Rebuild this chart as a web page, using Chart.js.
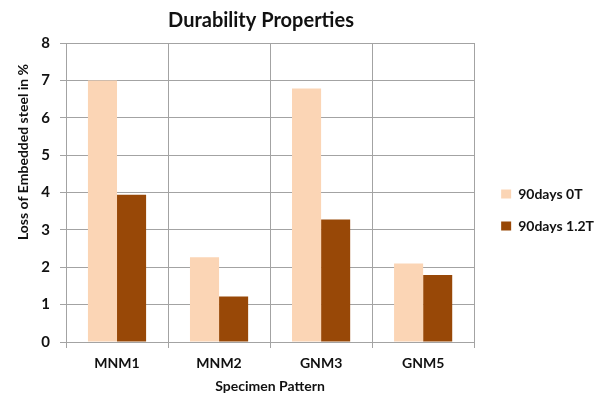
<!DOCTYPE html>
<html>
<head>
<meta charset="utf-8">
<script src="https://cdn.jsdelivr.net/npm/chart.js@4/dist/chart.umd.min.js"></script>
<style>
  html, body { margin: 0; padding: 0; background: #fff; }
  #wrap { width: 611px; height: 401px; }
</style>
</head>
<body>
<div id="wrap"><canvas id="c" width="611" height="401"></canvas></div>
<script>
// Specimen categories and measured steel loss (%) after 90 days
const specimens = ['MNM1', 'MNM2', 'GNM3', 'GNM5'];
const loss0T = [7.0, 2.27, 6.78, 2.1];
const loss12T = [3.94, 1.22, 3.28, 1.79];
const seriesNames = ['90days 0T', '90days 1.2T'];
const yTicks = [0, 1, 2, 3, 4, 5, 6, 7, 8];
const chartTitle = 'Durability Properties';
const yCaption = 'Loss of Embedded steel in %';
const xCaption = 'Specimen Pattern';

const FONT = 'Lato, "Open Sans", sans-serif';
const GRID = '#a3a3a3';
const INK = '#111111';

// Chart heading, rotated y-axis caption and legend placement
const extras = {
  id: 'extras',
  afterLayout(chart) {
    const lg = chart.legend;
    if (lg) {
      const dx = 9, dy = -12;
      lg.left += dx; lg.right += dx; lg.top += dy; lg.bottom += dy;
    }
  },
  afterDraw(chart) {
    const ctx = chart.ctx;
    ctx.save();
    ctx.fillStyle = INK;
    ctx.textAlign = 'center';
    ctx.textBaseline = 'middle';
    ctx.font = 'bold 20px ' + FONT;
    ctx.fillText(chartTitle, 261, 21);
    ctx.translate(23, 152);
    ctx.rotate(-Math.PI / 2);
    ctx.font = 'bold 14px ' + FONT;
    ctx.fillText(yCaption, 0, 0);
    ctx.restore();
  }
};

new Chart(document.getElementById('c'), {
  type: 'bar',
  data: {
    labels: specimens,
    datasets: [
      { label: seriesNames[0], data: loss0T, backgroundColor: '#FBD5B5', borderWidth: 0 },
      { label: seriesNames[1], data: loss12T, backgroundColor: '#984807', borderWidth: 0 }
    ]
  },
  options: {
    responsive: false,
    animation: false,
    devicePixelRatio: 1,
    categoryPercentage: 0.57,
    barPercentage: 1.0,
    layout: { padding: { left: 0, right: 16, top: 43, bottom: 0 } },
    plugins: {
      title: { display: false },
      legend: {
        position: 'right',
        labels: {
          color: INK,
          font: { family: FONT, size: 14, weight: 'bold' },
          boxWidth: 10,
          boxHeight: 9,
          padding: 18
        }
      },
      tooltip: { enabled: false }
    },
    scales: {
      x: {
        afterFit(s) { s.height = 59; },
        grid: { color: GRID, lineWidth: 1, offset: true, drawTicks: true, tickLength: 6 },
        border: { color: GRID },
        ticks: { color: INK, font: { family: FONT, size: 14, weight: 'bold' }, padding: 7 },
        title: {
          display: true,
          text: xCaption,
          color: INK,
          font: { family: FONT, size: 14, weight: 'bold' },
          padding: { top: 0, bottom: 6 }
        }
      },
      y: {
        min: 0,
        max: 8,
        afterFit(s) { s.width = 66; },
        afterBuildTicks(s) { s.ticks = yTicks.map(v => ({ value: v })); },
        grid: { color: GRID, lineWidth: 1, tickLength: 6 },
        border: { color: GRID },
        ticks: { color: INK, font: { family: FONT, size: 15, weight: 'bold' }, padding: 10 }
      }
    }
  },
  plugins: [extras]
});
</script>
</body>
</html>
